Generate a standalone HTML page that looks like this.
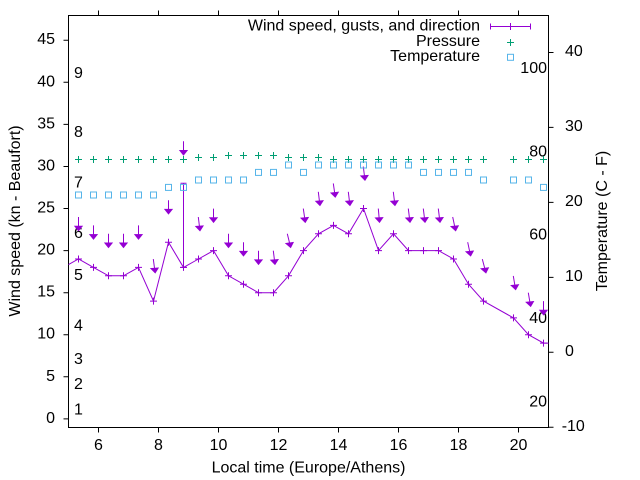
<!DOCTYPE html>
<html><head><meta charset="utf-8"><style>
body{margin:0;background:#fff}
svg{display:block}
text{font-family:"Liberation Sans",Arial,sans-serif;font-size:16px;fill:#000}
</style></head><body>
<svg width="640" height="480" viewBox="0 0 640 480" xmlns="http://www.w3.org/2000/svg">
<rect width="640" height="480" fill="#fff"/>
<defs><clipPath id="c"><rect x="68.5" y="15.5" width="480" height="412"/></clipPath></defs>

<!-- border -->
<rect x="68.5" y="15.5" width="480" height="412" fill="none" stroke="#000" stroke-width="1"/>

<!-- left ticks -->
<path stroke="#000" stroke-width="1" fill="none" d="M63.5 418.9H68.5M63.5 376.8H68.5M63.5 334.7H68.5M63.5 292.7H68.5M63.5 250.6H68.5M63.5 208.5H68.5M63.5 166.5H68.5M63.5 124.4H68.5M63.5 82.3H68.5M63.5 40.2H68.5"/>
<!-- right ticks -->
<path stroke="#000" stroke-width="1" fill="none" d="M548.5 52.5H553.5M548.5 127.4H553.5M548.5 202.4H553.5M548.5 277.4H553.5M548.5 352.3H553.5M548.5 427.3H553.5"/>
<!-- bottom & top ticks -->
<path stroke="#000" stroke-width="1" fill="none" d="M98.5 427.5V432.5M158.5 427.5V432.5M218.5 427.5V432.5M278.5 427.5V432.5M338.5 427.5V432.5M398.5 427.5V432.5M458.5 427.5V432.5M518.5 427.5V432.5M98.5 15.5V10.5M158.5 15.5V10.5M218.5 15.5V10.5M278.5 15.5V10.5M338.5 15.5V10.5M398.5 15.5V10.5M458.5 15.5V10.5M518.5 15.5V10.5"/>

<!-- left tick labels -->
<g text-anchor="end">
<text x="55" y="422.9">0</text>
<text x="55" y="380.8">5</text>
<text x="55" y="338.7">10</text>
<text x="55" y="296.7">15</text>
<text x="55" y="254.6">20</text>
<text x="55" y="212.5">25</text>
<text x="55" y="170.5">30</text>
<text x="55" y="128.4">35</text>
<text x="55" y="86.3">40</text>
<text x="55" y="44.2">45</text>
</g>
<!-- right tick labels -->
<text x="565" y="56">40</text>
<text x="565" y="131">30</text>
<text x="565" y="206">20</text>
<text x="565" y="281">10</text>
<text x="565" y="355.8">0</text>
<text x="561.7" y="430.8">-10</text>
<!-- bottom tick labels -->
<g text-anchor="middle">
<text x="98.5" y="450">6</text>
<text x="158.5" y="450">8</text>
<text x="218.5" y="450">10</text>
<text x="278.5" y="450">12</text>
<text x="338.5" y="450">14</text>
<text x="398.5" y="450">16</text>
<text x="458.5" y="450">18</text>
<text x="518.5" y="450">20</text>
</g>

<!-- axis labels -->
<text x="308.5" y="472.7" text-anchor="middle">Local time (Europe/Athens)</text>
<text transform="translate(20,221) rotate(-90)" text-anchor="middle">Wind speed (kn - Beaufort)</text>
<text transform="translate(607,221) rotate(-90)" text-anchor="middle">Temperature (C - F)</text>

<!-- Beaufort labels -->
<text x="74" y="414.5">1</text>
<text x="74" y="389.2">2</text>
<text x="74" y="364">3</text>
<text x="74" y="330.3">4</text>
<text x="74" y="279.8">5</text>
<text x="74" y="237.8">6</text>
<text x="74" y="187.3">7</text>
<text x="74" y="136.8">8</text>
<text x="74" y="77.9">9</text>

<!-- Fahrenheit labels -->
<g text-anchor="end">
<text x="547" y="73.1">100</text>
<text x="547" y="156.4">80</text>
<text x="547" y="239.7">60</text>
<text x="547" y="322.9">40</text>
<text x="547" y="406.3">20</text>
</g>

<g clip-path="url(#c)">
<!-- wind speed line -->
<polyline fill="none" stroke="#9400d3" stroke-width="1" points="63.5,267.4 78.5,259.0 93.5,267.4 108.5,275.8 123.5,275.8 138.5,267.4 153.5,301.1 168.5,242.2 183.5,267.4 198.5,259.0 213.5,250.6 228.5,275.8 243.5,284.2 258.5,292.7 273.5,292.7 288.5,275.8 303.5,250.6 318.5,233.8 333.5,225.4 348.5,233.8 363.5,208.5 378.5,250.6 393.5,233.8 408.5,250.6 423.5,250.6 438.5,250.6 453.5,259.0 468.5,284.2 483.5,301.1 513.5,317.9 528.5,334.7 543.5,343.1 558.5,343.1"/>
<!-- wind + markers -->
<path fill="none" stroke="#9400d3" stroke-width="1" d="M75 259h7M78.5 255.5v7M90 267.4h7M93.5 263.9v7M105 275.8h7M108.5 272.3v7M120 275.8h7M123.5 272.3v7M135 267.4h7M138.5 263.9v7M150 301.1h7M153.5 297.6v7M165 242.2h7M168.5 238.7v7M180 267.4h7M183.5 263.9v7M195 259h7M198.5 255.5v7M210 250.6h7M213.5 247.1v7M225 275.8h7M228.5 272.3v7M240 284.2h7M243.5 280.7v7M255 292.7h7M258.5 289.2v7M270 292.7h7M273.5 289.2v7M285 275.8h7M288.5 272.3v7M300 250.6h7M303.5 247.1v7M315 233.8h7M318.5 230.3v7M330 225.4h7M333.5 221.9v7M345 233.8h7M348.5 230.3v7M360 208.5h7M363.5 205v7M375 250.6h7M378.5 247.1v7M390 233.8h7M393.5 230.3v7M405 250.6h7M408.5 247.1v7M420 250.6h7M423.5 247.1v7M435 250.6h7M438.5 247.1v7M450 259h7M453.5 255.5v7M465 284.2h7M468.5 280.7v7M480 301.1h7M483.5 297.6v7M510 317.9h7M513.5 314.4v7M525 334.7h7M528.5 331.2v7M540 343.1h7M543.5 339.6v7"/>
<!-- gust bar -->
<path fill="none" stroke="#9400d3" stroke-width="1" d="M183.5 267.4V183.3M180.5 183.3h6M180.5 267.4h6"/>

<!-- direction arrows: shafts -->
<path fill="none" stroke="#9400d3" stroke-width="1" d="M78.5 217L78.5 226M93.5 225.4L93.5 234.4M108.5 233.8L108.5 242.8M123.5 233.8L123.5 242.8M138.5 225.4L138.5 234.4M153.3 259.1L154.5 268.1M168.5 200.2L168.5 209.2M183.5 141.3L183.5 150.3M198.3 217L199.4 226M213.5 208.6L213.5 217.6M228.5 233.8L228.5 242.8M243.5 242.2L243.5 251.2M258.5 250.7L258.5 259.7M273.3 250.7L274.4 259.7M287.3 233.8L289.5 242.8M303.3 208.6L304.6 217.6M318.3 191.8L319.4 200.8M333.3 183.4L334.6 192.4M348.3 191.8L349.4 200.8M363.3 166.5L364.4 175.5M378.3 208.6L379.1 217.6M393.3 191.8L394.4 200.8M408.3 208.6L409.4 217.6M423.3 208.6L424.4 217.6M438.3 208.6L439.4 217.6M452.7 217L454.6 226M467.7 242.2L469.6 251.2M482.3 259.1L484.7 268.1M513.3 275.9L514.8 284.9M528.3 292.7L529.8 301.7M543.5 301.1L543.5 310.1"/>
<!-- arrow heads -->
<g fill="#9400d3" stroke="#9400d3" stroke-width="0.6">
<polygon points="78.5,231 74.5,226 82.5,226"/>
<polygon points="93.5,239.4 89.5,234.4 97.5,234.4"/>
<polygon points="108.5,247.8 104.5,242.8 112.5,242.8"/>
<polygon points="123.5,247.8 119.5,242.8 127.5,242.8"/>
<polygon points="138.5,239.4 134.5,234.4 142.5,234.4"/>
<polygon points="155.2,273.1 150.5,268.4 158.5,267.8"/>
<polygon points="168.5,214.2 164.5,209.2 172.5,209.2"/>
<polygon points="183.5,155.3 179.5,150.3 187.5,150.3"/>
<polygon points="200,231 195.4,226.3 203.4,225.7"/>
<polygon points="213.5,222.6 209.5,217.6 217.5,217.6"/>
<polygon points="228.5,247.8 224.5,242.8 232.5,242.8"/>
<polygon points="243.5,256.2 239.5,251.2 247.5,251.2"/>
<polygon points="258.5,264.7 254.5,259.7 262.5,259.7"/>
<polygon points="275,264.7 270.4,260 278.4,259.4"/>
<polygon points="290.7,247.8 285.5,243.3 293.5,242.3"/>
<polygon points="305.3,222.6 300.6,218 308.6,217.2"/>
<polygon points="320,205.8 315.4,201.1 323.4,200.5"/>
<polygon points="335.3,197.4 330.6,192.8 338.6,192"/>
<polygon points="350,205.8 345.4,201.1 353.4,200.5"/>
<polygon points="365,180.5 360.4,175.8 368.4,175.2"/>
<polygon points="379.5,222.6 375.1,217.8 383.1,217.4"/>
<polygon points="395,205.8 390.4,201.1 398.4,200.5"/>
<polygon points="410,222.6 405.4,217.9 413.4,217.3"/>
<polygon points="425,222.6 420.4,217.9 428.4,217.3"/>
<polygon points="440,222.6 435.4,217.9 443.4,217.3"/>
<polygon points="455.7,231 450.6,226.4 458.6,225.6"/>
<polygon points="470.7,256.2 465.6,251.6 473.6,250.8"/>
<polygon points="486,273.1 480.7,268.6 488.7,267.6"/>
<polygon points="515.7,289.9 510.8,285.3 518.8,284.5"/>
<polygon points="530.7,306.7 525.8,302.1 533.8,301.3"/>
<polygon points="543.5,315.1 539.5,310.1 547.5,310.1"/>
</g>

<!-- pressure + -->
<path fill="none" stroke="#009e73" stroke-width="1" d="M75 159.5h7M78.5 156v7M90 159.5h7M93.5 156v7M105 159.5h7M108.5 156v7M120 159.5h7M123.5 156v7M135 159.5h7M138.5 156v7M150 159.5h7M153.5 156v7M165 159.5h7M168.5 156v7M180 159.5h7M183.5 156v7M195 157.5h7M198.5 154v7M210 157.5h7M213.5 154v7M225 155.5h7M228.5 152v7M240 155.5h7M243.5 152v7M255 155.5h7M258.5 152v7M270 155.5h7M273.5 152v7M285 157.5h7M288.5 154v7M300 157.5h7M303.5 154v7M315 157.5h7M318.5 154v7M330 159.5h7M333.5 156v7M345 159.5h7M348.5 156v7M360 159.5h7M363.5 156v7M375 159.5h7M378.5 156v7M390 159.5h7M393.5 156v7M405 159.5h7M408.5 156v7M420 159.5h7M423.5 156v7M435 159.5h7M438.5 156v7M450 159.5h7M453.5 156v7M465 159.5h7M468.5 156v7M480 159.5h7M483.5 156v7M510 159.5h7M513.5 156v7M525 159.5h7M528.5 156v7M540 159.5h7M543.5 156v7"/>

<!-- temperature squares -->
<g fill="none" stroke="#56b4e9" stroke-width="1">
<rect x="75.5" y="192" width="6" height="6"/>
<rect x="90.5" y="192" width="6" height="6"/>
<rect x="105.5" y="192" width="6" height="6"/>
<rect x="120.5" y="192" width="6" height="6"/>
<rect x="135.5" y="192" width="6" height="6"/>
<rect x="150.5" y="192" width="6" height="6"/>
<rect x="165.5" y="184.4" width="6" height="6"/>
<rect x="180.5" y="184.4" width="6" height="6"/>
<rect x="195.5" y="177" width="6" height="6"/>
<rect x="210.5" y="177" width="6" height="6"/>
<rect x="225.5" y="177" width="6" height="6"/>
<rect x="240.5" y="177" width="6" height="6"/>
<rect x="255.5" y="169.4" width="6" height="6"/>
<rect x="270.5" y="169.4" width="6" height="6"/>
<rect x="285.5" y="162" width="6" height="6"/>
<rect x="300.5" y="169.4" width="6" height="6"/>
<rect x="315.5" y="162" width="6" height="6"/>
<rect x="330.5" y="162" width="6" height="6"/>
<rect x="345.5" y="162" width="6" height="6"/>
<rect x="360.5" y="162" width="6" height="6"/>
<rect x="375.5" y="162" width="6" height="6"/>
<rect x="390.5" y="162" width="6" height="6"/>
<rect x="405.5" y="162" width="6" height="6"/>
<rect x="420.5" y="169.4" width="6" height="6"/>
<rect x="435.5" y="169.4" width="6" height="6"/>
<rect x="450.5" y="169.4" width="6" height="6"/>
<rect x="465.5" y="169.4" width="6" height="6"/>
<rect x="480.5" y="177" width="6" height="6"/>
<rect x="510.5" y="177" width="6" height="6"/>
<rect x="525.5" y="177" width="6" height="6"/>
<rect x="540.5" y="184.4" width="6" height="6"/>
</g>
</g>

<!-- legend -->
<g text-anchor="end">
<text x="480" y="30.7">Wind speed, gusts, and direction</text>
<text x="480" y="45.9">Pressure</text>
<text x="480" y="61">Temperature</text>
</g>
<path fill="none" stroke="#9400d3" stroke-width="1" d="M490.5 26.5H530.5M490.5 23.5v6M530.5 23.5v6M510.5 23v7"/>
<path fill="none" stroke="#009e73" stroke-width="1" d="M507 42.5h7M510.5 39v7"/>
<rect x="507.5" y="54.3" width="6" height="6" fill="none" stroke="#56b4e9" stroke-width="1"/>
</svg>
</body></html>
